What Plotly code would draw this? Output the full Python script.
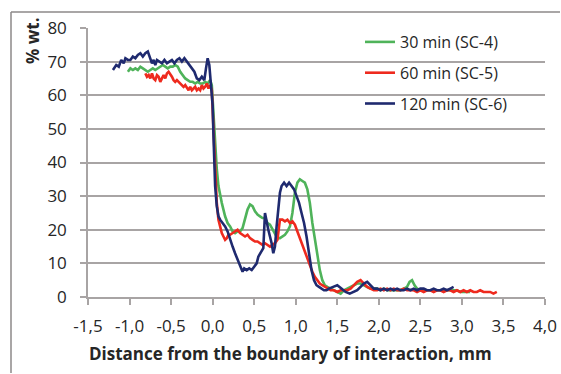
import plotly.graph_objects as go

# ---- data ----
x_30 = [-1.02,-0.99,-0.96,-0.93,-0.90,-0.87,-0.84,-0.81,-0.78,-0.75,-0.72,-0.69,-0.66,-0.63,-0.60,-0.57,-0.54,-0.51,-0.48,-0.45,
        -0.42,-0.39,-0.36,-0.33,-0.30,-0.27,-0.24,-0.21,-0.18,-0.15,-0.12,-0.09,-0.06,-0.03,-0.01,0.01,0.03,0.05,0.07,0.09,
        0.11,0.13,0.15,0.18,0.21,0.24,0.27,0.30,0.33,0.36,0.39,0.42,0.45,0.48,0.51,0.54,0.57,0.60,0.63,0.66,
        0.69,0.72,0.75,0.78,0.81,0.84,0.87,0.90,0.93,0.96,0.99,1.02,1.05,1.08,1.11,1.14,1.17,1.20,1.23,1.26,
        1.29,1.32,1.35,1.38,1.42,1.46,1.50,1.54,1.58,1.62,1.66,1.70,1.74,1.78,1.82,1.86,1.90,1.94,1.98,2.02,
        2.06,2.10,2.14,2.18,2.22,2.26,2.30,2.34,2.37,2.40,2.43,2.46,2.50,2.54,2.58,2.62,2.66,2.70,2.74,2.78,
        2.82,2.86,2.90,2.94,2.98,3.02,3.06,3.10]
y_30 = [67,68,67.5,68,67.5,68.5,68,67.5,67,67.5,68,67.5,68,68.5,69,68.5,68,68.5,68.5,69,
        68.5,67,66,65,64.5,64,64,63.5,64,63.5,63.5,64,63.5,64.5,63,55,45,38,33,30,
        28,26,24,22,21,19.5,19,19.5,19.5,20.5,23,26,27.5,27,25.5,24.5,24,23.5,23.5,22,
        21.5,20,18.5,17.5,17.5,18,18.5,19.5,21,25,31,34,35,34.5,34,32,28,22,17,12,
        8,5,3.5,3,2.5,2,1.5,1,2,2.5,3,3.5,4,4,3.5,3,2.5,2.5,2.5,2,
        2.5,2,2,2,2,2,2.5,3,4.5,5,3.5,2.5,2,2,2,2,2,2,2,2,
        2,2,2,2,1.5,1.5,1.5,1.5]

x_60 = [-0.81,-0.79,-0.77,-0.75,-0.73,-0.71,-0.69,-0.67,-0.65,-0.63,-0.61,-0.59,-0.57,-0.55,-0.53,-0.51,-0.49,-0.47,-0.45,-0.43,
        -0.41,-0.39,-0.37,-0.35,-0.33,-0.31,-0.29,-0.27,-0.25,-0.23,-0.21,-0.19,-0.17,-0.15,-0.13,-0.11,-0.09,-0.07,-0.05,-0.03,
        -0.01,0.01,0.03,0.05,0.07,0.09,0.11,0.13,0.15,0.17,0.19,0.21,0.24,0.27,0.30,0.33,0.36,0.39,0.42,0.45,
        0.48,0.51,0.54,0.57,0.60,0.63,0.66,0.69,0.72,0.75,0.78,0.81,0.84,0.87,0.90,0.93,0.96,0.99,1.02,1.05,
        1.08,1.11,1.14,1.17,1.20,1.23,1.26,1.29,1.32,1.35,1.38,1.42,1.46,1.50,1.54,1.58,1.62,1.66,1.70,1.74,
        1.78,1.82,1.86,1.90,1.94,1.98,2.02,2.06,2.10,2.14,2.18,2.22,2.26,2.30,2.34,2.38,2.42,2.46,2.50,2.54,
        2.58,2.62,2.66,2.70,2.74,2.78,2.82,2.86,2.90,2.94,2.98,3.02,3.06,3.10,3.14,3.18,3.22,3.26,3.30,3.34,
        3.38,3.42]
y_60 = [66.5,65.5,66,65,66.5,65,64.5,66,65.5,64,65,66,65,66.5,67,66,65.5,64.5,64,64.5,
        64,63.5,63,62.5,63,62,61.5,62.5,61.5,62,62.5,61.5,62,61.5,63,62,62.5,63.5,62,63,
        61.5,50,38,28,23,20.5,19,18,17,17.5,18.5,18.5,19,19.5,20,19,18.5,18,18.5,17.5,
        17,16.5,16.5,16,15.5,16,15.5,15,15.5,16,17,23,23,22.5,23,22,22.5,21.5,19.5,17.5,
        15.5,13.5,11,9.5,7.5,6,5,4,3.5,3,2.5,2,2,1.5,2,2,2,2.5,3.5,4.5,
        5,4,3,2.5,2,2,2.5,2,2.5,2,2.5,2,2,2.5,2,2,2,1.5,2,1.5,
        2,2,1.5,2,2,1.5,2,2,1.5,2,1.5,2,1.5,2,1.5,1.5,2,1.5,1.5,1.5,
        1,1.5]

x_120 = [-1.20,-1.16,-1.13,-1.10,-1.07,-1.05,-1.02,-0.99,-0.96,-0.93,-0.90,-0.87,-0.84,-0.81,-0.78,-0.76,-0.73,-0.71,-0.69,-0.67,
         -0.64,-0.61,-0.58,-0.55,-0.52,-0.49,-0.46,-0.43,-0.40,-0.37,-0.34,-0.31,-0.28,-0.25,-0.22,-0.19,-0.16,-0.13,-0.10,-0.08,
         -0.06,-0.04,-0.02,0.00,0.01,0.02,0.03,0.05,0.07,0.09,0.12,0.15,0.18,0.21,0.24,0.27,0.30,0.33,0.36,0.38,
         0.41,0.44,0.47,0.50,0.53,0.55,0.58,0.61,0.63,0.65,0.67,0.69,0.71,0.73,0.75,0.77,0.79,0.81,0.83,0.86,
         0.89,0.92,0.95,0.98,1.01,1.04,1.07,1.10,1.13,1.16,1.19,1.22,1.25,1.28,1.31,1.34,1.37,1.40,1.45,1.50,
         1.55,1.60,1.65,1.70,1.74,1.78,1.82,1.86,1.90,1.94,1.98,2.02,2.06,2.10,2.14,2.18,2.22,2.26,2.30,2.34,
         2.38,2.42,2.46,2.50,2.54,2.58,2.62,2.66,2.70,2.74,2.78,2.82,2.86,2.90,2.94,2.98,3.02]
y_120 = [67.5,69,68.5,70.5,69.5,71,70.5,70.5,71.5,71,72,72.5,71.5,72.5,73,71.5,69.5,70.5,69,70.5,
         70,69.5,70.5,69.5,70,70.5,69.5,70.5,71,70,71,70,69,68,67,65,64.5,65.5,64.5,68,
         71,69,62,57,48,40,33,27,24,23,22,21,19.5,17,15,13,11,9.5,7.5,8.5,
         8,8.5,8,9,10,12,13.5,14.5,25,22,20,18,16,13,15,21,27,31,33,34,
         33,34,33,32,30,28,25,22,18,13,8,5,3.5,3,2.5,2,2,2.5,3,3.5,
         2.5,1.5,1,1.5,2,3,4,4.5,3.5,2.5,2.5,2,2.5,2,2.5,2,2.5,2,2,2.5,
         2,2.5,2,2.5,2.5,2,2,2.5,2,2,2.5,2,2.5,3]

series_names = ["30 min (SC-4)", "60 min (SC-5)", "120 min (SC-6)"]
series_colors = ["#4fb35a", "#ee2a1e", "#1f2a6f"]

x_ticks = [-1.5, -1.0, -0.5, 0.0, 0.5, 1.0, 1.5, 2.0, 2.5, 3.0, 3.5, 4.0]
x_tick_labels = ["-1,5", "-1,0", "-0,5", "0,0", "0,5", "1,0", "1,5", "2,0", "2,5", "3,0", "3,5", "4,0"]
y_ticks = [0, 10, 20, 30, 40, 50, 60, 70, 80]

FONT = "Open Sans"
TXT = "#262626"
GRID = "#a8a4a4"

fig = go.Figure()
for i, (xs, ys) in enumerate([(x_30, y_30), (x_60, y_60), (x_120, y_120)]):
    fig.add_trace(go.Scatter(x=xs, y=ys, mode="lines", name=series_names[i],
                             legendgroup=str(i),
                             line=dict(color=series_colors[i], width=2.6)))

# plot-area geometry in px
L, R, T, B = 88, 16, 28, 77
W, H = 561, 374
pw, ph = W - L - R, H - T - B
def px(xp):
    return (xp - L) / pw
def py(yp):
    return (H - B - yp) / ph

BORDER = "#8c8888"
fig.update_layout(
    width=W, height=H,
    margin=dict(l=L, r=R, t=T, b=B, pad=0, autoexpand=False),
    paper_bgcolor="white", plot_bgcolor="white",
    font=dict(family=FONT, color=TXT, size=17),
    showlegend=True,
    legend=dict(x=px(360), y=py(25), xanchor="left", yanchor="top",
                bgcolor="rgba(0,0,0,0)", font=dict(size=16, color=TXT),
                tracegroupgap=7, traceorder="grouped"),
    xaxis=dict(range=[-1.5, 4.0], tickvals=x_ticks, ticktext=x_tick_labels,
               showgrid=False, zeroline=False, automargin=False,
               showline=True, linecolor=GRID, linewidth=1.5,
               ticks="outside", ticklen=6, tickcolor=GRID, tickwidth=1.5,
               ticklabelstandoff=7,
               tickfont=dict(size=17, color=TXT)),
    yaxis=dict(range=[0, 80], tickvals=y_ticks,
               showgrid=True, gridcolor=GRID, gridwidth=1.5, zeroline=False,
               automargin=False,
               showline=True, linecolor=GRID, linewidth=1.5,
               ticks="outside", ticklen=6, tickcolor=GRID, tickwidth=1.5,
               ticklabelstandoff=10,
               tickfont=dict(size=17, color=TXT)),
    shapes=[
        dict(type="rect", xref="paper", yref="paper",
             x0=px(333), x1=1.0, y0=py(118), y1=py(24),
             fillcolor="white", line=dict(width=0), layer="between"),
        dict(type="line", xref="paper", yref="paper",
             x0=px(11), x1=px(560), y0=py(12), y1=py(12),
             line=dict(color=BORDER, width=1.5)),
        dict(type="line", xref="paper", yref="paper",
             x0=px(11), x1=px(11), y0=py(12), y1=py(373),
             line=dict(color=BORDER, width=1.5)),
    ],
    annotations=[
        dict(text="<b>% wt.</b>", xref="paper", yref="paper",
             x=px(32), y=py(41), xanchor="center", yanchor="middle",
             textangle=-90, showarrow=False, font=dict(size=17, color=TXT)),
        dict(text="<b>Distance from the boundary of interaction, mm</b>",
             xref="paper", yref="paper", x=px(290), y=py(353),
             xanchor="center", yanchor="middle", showarrow=False,
             font=dict(size=17, color=TXT)),
    ],
)

fig.write_html("out.html", config={"displayModeBar": False},
               post_script="document.body.style.margin='0';document.body.style.padding='0';document.documentElement.style.overflow='hidden';")
